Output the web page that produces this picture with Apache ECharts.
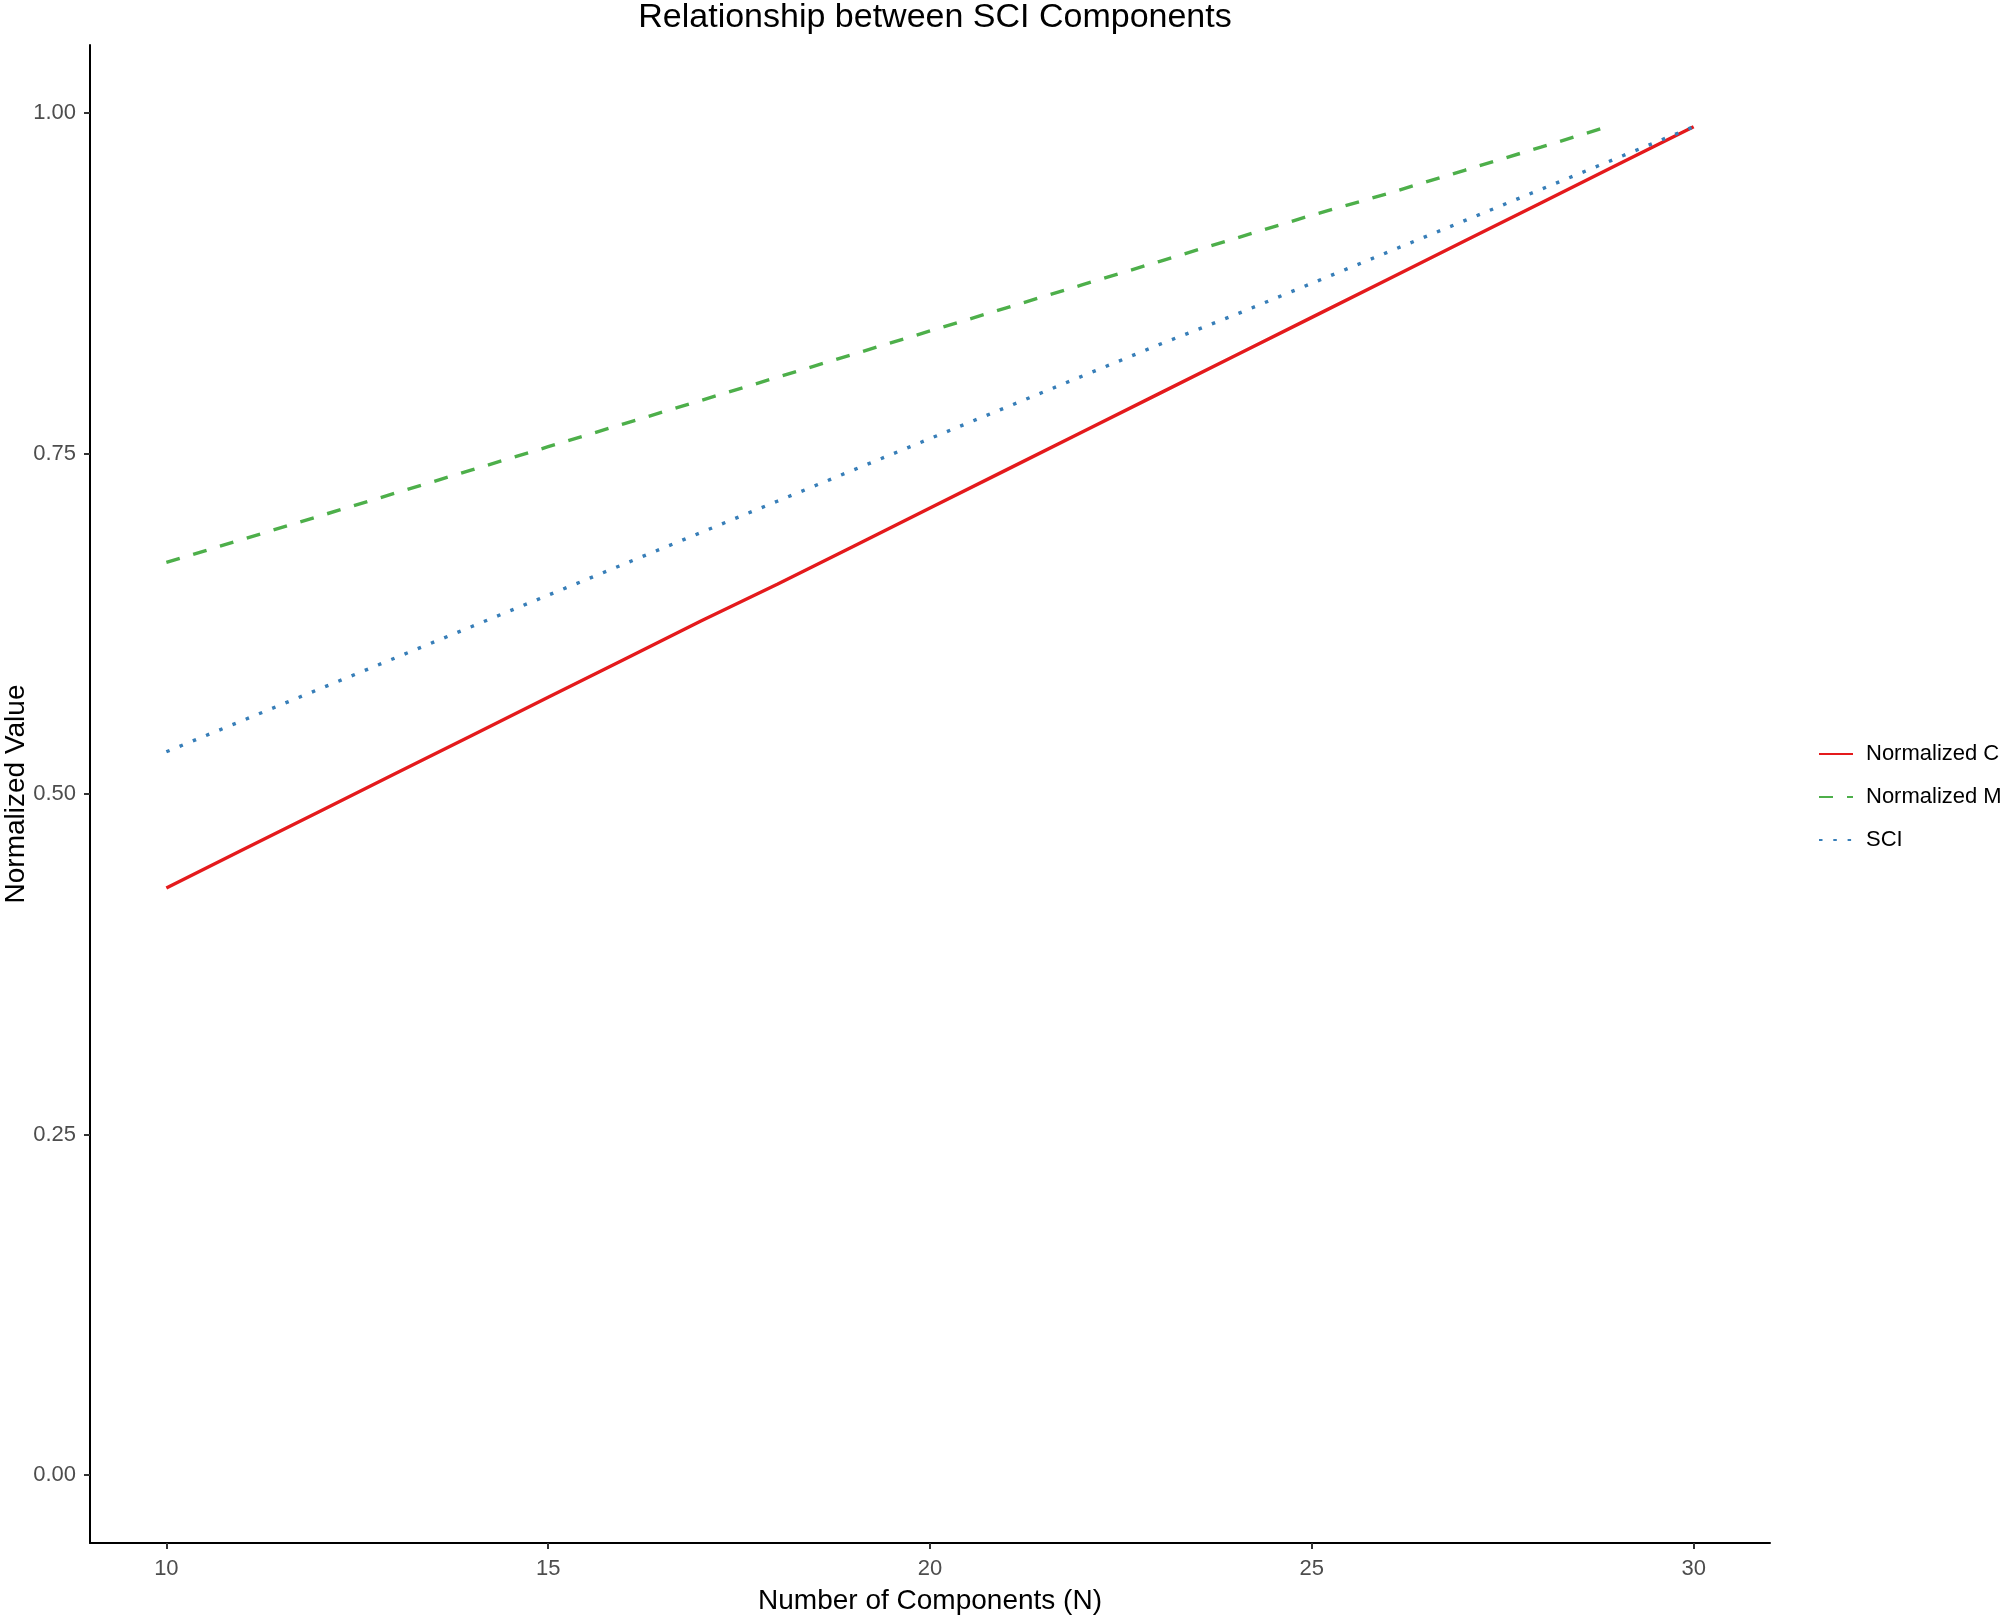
<!DOCTYPE html>
<html>
<head>
<meta charset="utf-8">
<script src="https://cdn.jsdelivr.net/npm/echarts@6/dist/echarts.min.js"></script>
<style>
html,body{margin:0;padding:0;background:#fff;}
#chart{width:2008px;height:1616px;}
</style>
</head>
<body>
<div id="chart"></div>
<script>
// ---- Data ----
const nComponents = [10,11,12,13,14,15,16,17,18,19,20,21,22,23,24,25,26,27,28,29,30];
const normalizedC = [0.431,0.459,0.487,0.515,0.543,0.571,0.599,0.627,0.654,0.682,0.710,0.738,0.766,0.794,0.822,0.850,0.878,0.906,0.934,0.962,0.990];
const sciValues   = [0.531,0.554,0.577,0.600,0.623,0.646,0.669,0.692,0.715,0.738,0.761,0.784,0.807,0.830,0.852,0.875,0.898,0.921,0.944,0.967,0.990];
const nComponentsM = [10,11,12,13,14,15,16,17,18,19,20,21,22,23,24,25,26,27,28,28.93];
const normalizedM = [0.670,0.687,0.704,0.721,0.738,0.755,0.772,0.789,0.806,0.823,0.840,0.857,0.874,0.891,0.908,0.925,0.941,0.958,0.975,0.991];
const xTicks = [10,15,20,25,30];
const yTicks = [0,0.25,0.5,0.75,1.0];
const seriesNames = ['Normalized C','Normalized M','SCI'];

const FONT = "'Liberation Sans', Arial, sans-serif";
const chart = echarts.init(document.getElementById('chart'), null, {renderer:'canvas'});

const pairs = (xs, ys) => xs.map((x,i)=>[x, ys[i]]);

chart.setOption({
  animation:false,
  backgroundColor:'#ffffff',
  title:{
    text:'Relationship between SCI Components',
    left:930, top:-4, textAlign:'center',
    textStyle:{fontFamily:FONT,fontSize:34,fontWeight:'normal',color:'#000'}
  },
  legend:{
    orient:'vertical',
    left:1813, top:738,
    itemWidth:34, itemHeight:20, itemGap:21,
    data:seriesNames,
    itemStyle:{color:'rgba(0,0,0,0)',borderWidth:0,opacity:0},
    textStyle:{fontFamily:FONT,fontSize:22,color:'#000',lineHeight:20,padding:[0,0,0,8]}
  },
  grid:{left:90, right:238, top:45, bottom:73, containLabel:false, outerBoundsMode:'none'},
  xAxis:{
    type:'value', min:9, max:31,
    name:'Number of Components (N)', nameLocation:'middle', nameGap:44, nameMoveOverlap:false,
    nameTextStyle:{fontFamily:FONT,fontSize:28,color:'#000'},
    axisLine:{show:true,onZero:false,lineStyle:{color:'#000',width:2}},
    axisTick:{show:true,length:6,lineStyle:{color:'#333',width:2},customValues:xTicks},
    axisLabel:{customValues:xTicks,margin:15,fontFamily:FONT,fontSize:22,color:'#4D4D4D'},
    splitLine:{show:false}
  },
  yAxis:{
    type:'value', min:-0.05, max:1.05,
    name:'Normalized Value', nameLocation:'middle', nameGap:60, nameRotate:90, nameMoveOverlap:false,
    nameTextStyle:{fontFamily:FONT,fontSize:28,color:'#000'},
    axisLine:{show:true,onZero:false,lineStyle:{color:'#000',width:2}},
    axisTick:{show:true,length:6,lineStyle:{color:'#333',width:2},customValues:yTicks},
    axisLabel:{customValues:yTicks,margin:14,fontFamily:FONT,fontSize:22,color:'#4D4D4D',
      formatter:v=>v.toFixed(2)},
    splitLine:{show:false}
  },
  series:[
    {name:seriesNames[0], type:'line', symbol:'none', data:pairs(nComponents, normalizedC),
     lineStyle:{color:'#E41A1C',width:3.4,type:'solid'}, itemStyle:{color:'#E41A1C'}, z:3},
    {name:seriesNames[1], type:'line', symbol:'none', data:pairs(nComponentsM, normalizedM),
     lineStyle:{color:'#4DAF4A',width:3.4,type:[14,14],cap:'butt'}, itemStyle:{color:'#4DAF4A'}, z:2},
    {name:seriesNames[2], type:'line', symbol:'none', data:pairs(nComponents, sciValues),
     lineStyle:{color:'#377EB8',width:3.4,type:[3.5,10.8],cap:'butt'}, itemStyle:{color:'#377EB8'}, z:4}
  ]
});
</script>
</body>
</html>
